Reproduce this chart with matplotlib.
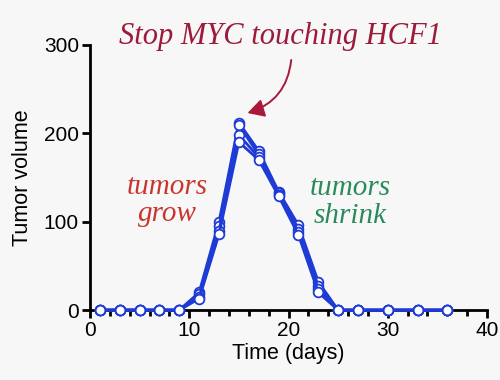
import matplotlib.pyplot as plt

days = [1, 3, 5, 7, 9, 11, 13, 15, 17, 19, 21, 23, 25, 27, 30, 33, 36]
mouse1 = [0, 0, 0, 0, 0, 20, 100, 212, 180, 134, 96, 32, 0, 0, 0, 0, 0]
mouse2 = [0, 0, 0, 0, 0, 18, 95, 209, 176, 132, 92, 27, 0, 0, 0, 0, 0]
mouse3 = [0, 0, 0, 0, 0, 15, 90, 198, 173, 130, 88, 24, 0, 0, 0, 0, 0]
mouse4 = [0, 0, 0, 0, 0, 13, 86, 190, 170, 129, 85, 20, 0, 0, 0, 0, 0]

bg = '#f7f7f7'
blue = '#1f3bd6'

fig = plt.figure(figsize=(5, 3.8), dpi=100, facecolor=bg)
ax = fig.add_axes([0.18, 0.184, 0.794, 0.698])
ax.set_facecolor(bg)

for m in [mouse1, mouse2, mouse3, mouse4]:
    ax.plot(days, m, color=blue, lw=2, marker='o', ms=7,
            mfc='white', mec=blue, mew=1.3, clip_on=False, zorder=3)

ax.set_xlim(0, 40)
ax.set_ylim(0, 300)
ax.set_xticks([0, 10, 20, 30, 40])
ax.set_xticks(range(0, 41, 2), minor=True)
ax.set_yticks([0, 100, 200, 300])
ax.spines['top'].set_visible(False)
ax.spines['right'].set_visible(False)
for s in ['left', 'bottom']:
    ax.spines[s].set_linewidth(2)
ax.tick_params(width=2, length=6, labelsize=15, pad=2)
ax.tick_params(which='minor', width=2, length=4)
for lab in ax.get_xticklabels() + ax.get_yticklabels():
    lab.set_family('Liberation Sans')

ax.set_xlabel('Time (days)', fontsize=15.5, family='Liberation Sans', labelpad=2)
ax.set_ylabel('Tumor volume', fontsize=15.5, family='Liberation Sans', labelpad=8)

serif = dict(family='Liberation Serif', style='italic', ha='center', va='center')
ax.text(19.2, 309, 'Stop MYC touching HCF1', fontsize=22, color='#9c1b3b',
        clip_on=False, **serif)
ax.annotate('', xy=(15.6, 222), xytext=(20.3, 286),
            arrowprops=dict(arrowstyle='-|>,head_length=1.0,head_width=0.55',
                            color='#a8193a', lw=1.4,
                            connectionstyle='arc3,rad=-0.35'),
            annotation_clip=False)
ax.text(7.8, 124, 'tumors\ngrow', fontsize=21, color='#c8372f',
        linespacing=1.08, **serif)
ax.text(26.2, 122, 'tumors\nshrink', fontsize=21, color='#2a8a5a',
        linespacing=1.08, **serif)

fig.savefig('out.png', dpi=100, facecolor=bg)
